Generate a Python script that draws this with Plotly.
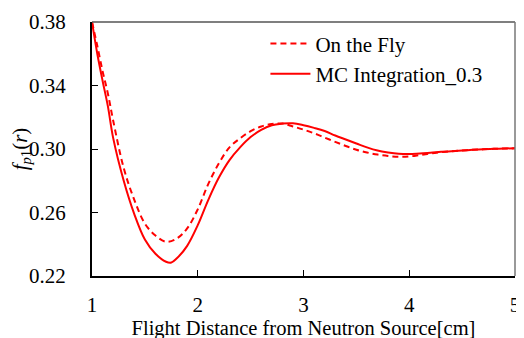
import plotly.graph_objects as go

x_fly = [1.0, 1.05, 1.1, 1.15, 1.2, 1.3, 1.4, 1.5, 1.6, 1.7, 1.8, 1.9, 2.0, 2.1, 2.2, 2.3, 2.4, 2.5,
         2.6, 2.7, 2.8, 2.9, 3.0, 3.1, 3.2, 3.3, 3.4, 3.5, 3.6, 3.7, 3.8, 3.9, 4.0, 4.1, 4.2, 4.3,
         4.4, 4.5, 4.6, 4.7, 4.8, 4.9, 5.0]
y_fly = [0.380, 0.365, 0.349, 0.335, 0.318, 0.288, 0.268, 0.253, 0.2455, 0.2416, 0.2435, 0.250,
         0.262, 0.278, 0.291, 0.301, 0.3067, 0.3112, 0.3142, 0.3158, 0.3160, 0.3142, 0.3122,
         0.3099, 0.3072, 0.3045, 0.3019, 0.2995, 0.2978, 0.2965, 0.2956, 0.2951, 0.2953, 0.2962,
         0.2972, 0.2980, 0.2986, 0.2991, 0.2995, 0.2998, 0.3001, 0.3003, 0.3004]

x_mc = [1.0, 1.05, 1.1, 1.15, 1.2, 1.3, 1.4, 1.5, 1.6, 1.7, 1.75, 1.8, 1.9, 2.0, 2.1, 2.2, 2.3, 2.4,
        2.5, 2.6, 2.7, 2.8, 2.9, 3.0, 3.1, 3.2, 3.3, 3.4, 3.5, 3.6, 3.7, 3.8, 3.9, 4.0, 4.1, 4.2,
        4.3, 4.4, 4.5, 4.6, 4.7, 4.8, 4.9, 5.0]
y_mc = [0.380, 0.360, 0.343, 0.327, 0.307, 0.280, 0.259, 0.243, 0.234, 0.229, 0.2285, 0.231,
        0.239, 0.252, 0.268, 0.282, 0.293, 0.301, 0.3075, 0.312, 0.315, 0.316, 0.3162, 0.315,
        0.3133, 0.3113, 0.3085, 0.306, 0.3035, 0.301, 0.299, 0.2978, 0.297, 0.2968, 0.2972,
        0.2976, 0.2982, 0.2986, 0.299, 0.2995, 0.2999, 0.3001, 0.3003, 0.3005]

x_ticks = [1, 2, 3, 4, 5]
y_ticks = [0.22, 0.26, 0.30, 0.34, 0.38]

FONT = "Liberation Serif"
FS = 21

fig = go.Figure()
fig.add_trace(go.Scatter(x=x_fly, y=y_fly, mode="lines", name="On the Fly",
                         line=dict(color="#ff0000", width=2, dash="6px,4px", shape="spline")))
fig.add_trace(go.Scatter(x=x_mc, y=y_mc, mode="lines", name="MC Integration_0.3",
                         line=dict(color="#ff0000", width=2, shape="spline")))

# the page body has an 8px default margin, so margins are offset to compensate
fig.update_layout(
    width=524, height=338,
    margin=dict(l=84, r=17, t=14, b=70, autoexpand=False),
    paper_bgcolor="white", plot_bgcolor="white",
    font=dict(family=FONT, size=FS, color="black"),
    showlegend=True,
    legend=dict(x=0.41, y=0.995, xanchor="left", yanchor="top", bgcolor="rgba(0,0,0,0)",
                font=dict(family=FONT, size=FS), itemwidth=40, tracegroupgap=8),
    xaxis=dict(range=[1, 5], tickvals=x_ticks, ticktext=[str(v) for v in x_ticks],
               automargin=False,
               showgrid=False, zeroline=False, showline=True, linecolor="black", linewidth=2,
               ticks="inside", ticklen=6, tickcolor="black", tickwidth=1, ticklabelstandoff=9,
               title=dict(text="Flight Distance from Neutron Source[cm]", standoff=0,
                          font=dict(family=FONT, size=20.5))),
    yaxis=dict(range=[0.22, 0.38], tickvals=y_ticks, ticktext=["%.2f" % v for v in y_ticks],
               automargin=False,
               showgrid=False, zeroline=False, showline=True, linecolor="black", linewidth=2,
               ticks="inside", ticklen=6, tickcolor="black", tickwidth=1, ticklabelstandoff=20,
               title=dict(text="<i>f</i><sub><i>p</i>1</sub>(<i>r</i>)", standoff=0,
                          font=dict(family=FONT, size=FS))),
    shapes=[
        dict(type="line", xref="paper", yref="paper", x0=0, x1=1, y0=1, y1=1,
             line=dict(color="#555555", width=1.5)),
        dict(type="line", xref="paper", yref="paper", x0=1, x1=1, y0=0, y1=1,
             line=dict(color="#777777", width=1.5)),
    ],
)

fig.write_html("out.html")
